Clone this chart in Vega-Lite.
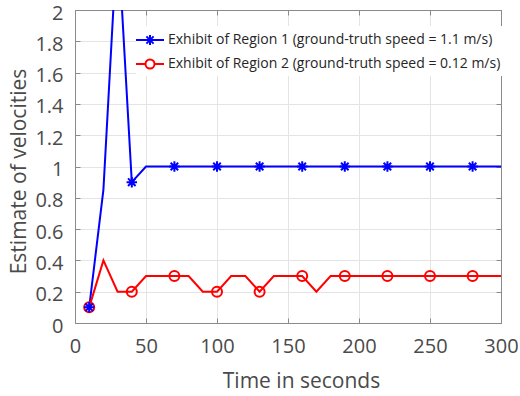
{
  "$schema": "https://vega.github.io/schema/vega-lite/v6.json",
  "width": 426,
  "height": 313,
  "autosize": {"type": "none"},
  "padding": {"left": 75, "top": 10, "right": 19, "bottom": 73},
  "background": "white",
  "config": {
    "font": "Open Sans",
    "view": {"stroke": "#8a8a8a", "strokeWidth": 1},
    "axis": {
      "labelFont": "Open Sans",
      "titleFont": "Open Sans",
      "labelFontSize": 20,
      "titleFontSize": 21,
      "titleFontWeight": "normal",
      "labelColor": "#4a4a4a",
      "titleColor": "#4a4a4a",
      "domainColor": "#8a8a8a",
      "tickColor": "#8a8a8a",
      "gridColor": "#e4e4e4",
      "gridWidth": 1
    },
    "legend": {"labelFont": "Open Sans"}
  },
  "data": {
    "values": [
      {"t": 10, "v": 0.1, "series": "Exhibit of Region 1 (ground-truth speed = 1.1 m/s)"},
      {"t": 20, "v": 0.85, "series": "Exhibit of Region 1 (ground-truth speed = 1.1 m/s)"},
      {"t": 30, "v": 2.5, "series": "Exhibit of Region 1 (ground-truth speed = 1.1 m/s)"},
      {"t": 40, "v": 0.9, "series": "Exhibit of Region 1 (ground-truth speed = 1.1 m/s)"},
      {"t": 50, "v": 1.0, "series": "Exhibit of Region 1 (ground-truth speed = 1.1 m/s)"},
      {"t": 60, "v": 1.0, "series": "Exhibit of Region 1 (ground-truth speed = 1.1 m/s)"},
      {"t": 70, "v": 1.0, "series": "Exhibit of Region 1 (ground-truth speed = 1.1 m/s)"},
      {"t": 80, "v": 1.0, "series": "Exhibit of Region 1 (ground-truth speed = 1.1 m/s)"},
      {"t": 90, "v": 1.0, "series": "Exhibit of Region 1 (ground-truth speed = 1.1 m/s)"},
      {"t": 100, "v": 1.0, "series": "Exhibit of Region 1 (ground-truth speed = 1.1 m/s)"},
      {"t": 110, "v": 1.0, "series": "Exhibit of Region 1 (ground-truth speed = 1.1 m/s)"},
      {"t": 120, "v": 1.0, "series": "Exhibit of Region 1 (ground-truth speed = 1.1 m/s)"},
      {"t": 130, "v": 1.0, "series": "Exhibit of Region 1 (ground-truth speed = 1.1 m/s)"},
      {"t": 140, "v": 1.0, "series": "Exhibit of Region 1 (ground-truth speed = 1.1 m/s)"},
      {"t": 150, "v": 1.0, "series": "Exhibit of Region 1 (ground-truth speed = 1.1 m/s)"},
      {"t": 160, "v": 1.0, "series": "Exhibit of Region 1 (ground-truth speed = 1.1 m/s)"},
      {"t": 170, "v": 1.0, "series": "Exhibit of Region 1 (ground-truth speed = 1.1 m/s)"},
      {"t": 180, "v": 1.0, "series": "Exhibit of Region 1 (ground-truth speed = 1.1 m/s)"},
      {"t": 190, "v": 1.0, "series": "Exhibit of Region 1 (ground-truth speed = 1.1 m/s)"},
      {"t": 200, "v": 1.0, "series": "Exhibit of Region 1 (ground-truth speed = 1.1 m/s)"},
      {"t": 210, "v": 1.0, "series": "Exhibit of Region 1 (ground-truth speed = 1.1 m/s)"},
      {"t": 220, "v": 1.0, "series": "Exhibit of Region 1 (ground-truth speed = 1.1 m/s)"},
      {"t": 230, "v": 1.0, "series": "Exhibit of Region 1 (ground-truth speed = 1.1 m/s)"},
      {"t": 240, "v": 1.0, "series": "Exhibit of Region 1 (ground-truth speed = 1.1 m/s)"},
      {"t": 250, "v": 1.0, "series": "Exhibit of Region 1 (ground-truth speed = 1.1 m/s)"},
      {"t": 260, "v": 1.0, "series": "Exhibit of Region 1 (ground-truth speed = 1.1 m/s)"},
      {"t": 270, "v": 1.0, "series": "Exhibit of Region 1 (ground-truth speed = 1.1 m/s)"},
      {"t": 280, "v": 1.0, "series": "Exhibit of Region 1 (ground-truth speed = 1.1 m/s)"},
      {"t": 290, "v": 1.0, "series": "Exhibit of Region 1 (ground-truth speed = 1.1 m/s)"},
      {"t": 300, "v": 1.0, "series": "Exhibit of Region 1 (ground-truth speed = 1.1 m/s)"},
      {"t": 10, "v": 0.1, "series": "Exhibit of Region 2 (ground-truth speed = 0.12 m/s)"},
      {"t": 20, "v": 0.4, "series": "Exhibit of Region 2 (ground-truth speed = 0.12 m/s)"},
      {"t": 30, "v": 0.2, "series": "Exhibit of Region 2 (ground-truth speed = 0.12 m/s)"},
      {"t": 40, "v": 0.2, "series": "Exhibit of Region 2 (ground-truth speed = 0.12 m/s)"},
      {"t": 50, "v": 0.3, "series": "Exhibit of Region 2 (ground-truth speed = 0.12 m/s)"},
      {"t": 60, "v": 0.3, "series": "Exhibit of Region 2 (ground-truth speed = 0.12 m/s)"},
      {"t": 70, "v": 0.3, "series": "Exhibit of Region 2 (ground-truth speed = 0.12 m/s)"},
      {"t": 80, "v": 0.3, "series": "Exhibit of Region 2 (ground-truth speed = 0.12 m/s)"},
      {"t": 90, "v": 0.2, "series": "Exhibit of Region 2 (ground-truth speed = 0.12 m/s)"},
      {"t": 100, "v": 0.2, "series": "Exhibit of Region 2 (ground-truth speed = 0.12 m/s)"},
      {"t": 110, "v": 0.3, "series": "Exhibit of Region 2 (ground-truth speed = 0.12 m/s)"},
      {"t": 120, "v": 0.3, "series": "Exhibit of Region 2 (ground-truth speed = 0.12 m/s)"},
      {"t": 130, "v": 0.2, "series": "Exhibit of Region 2 (ground-truth speed = 0.12 m/s)"},
      {"t": 140, "v": 0.3, "series": "Exhibit of Region 2 (ground-truth speed = 0.12 m/s)"},
      {"t": 150, "v": 0.3, "series": "Exhibit of Region 2 (ground-truth speed = 0.12 m/s)"},
      {"t": 160, "v": 0.3, "series": "Exhibit of Region 2 (ground-truth speed = 0.12 m/s)"},
      {"t": 170, "v": 0.2, "series": "Exhibit of Region 2 (ground-truth speed = 0.12 m/s)"},
      {"t": 180, "v": 0.3, "series": "Exhibit of Region 2 (ground-truth speed = 0.12 m/s)"},
      {"t": 190, "v": 0.3, "series": "Exhibit of Region 2 (ground-truth speed = 0.12 m/s)"},
      {"t": 200, "v": 0.3, "series": "Exhibit of Region 2 (ground-truth speed = 0.12 m/s)"},
      {"t": 210, "v": 0.3, "series": "Exhibit of Region 2 (ground-truth speed = 0.12 m/s)"},
      {"t": 220, "v": 0.3, "series": "Exhibit of Region 2 (ground-truth speed = 0.12 m/s)"},
      {"t": 230, "v": 0.3, "series": "Exhibit of Region 2 (ground-truth speed = 0.12 m/s)"},
      {"t": 240, "v": 0.3, "series": "Exhibit of Region 2 (ground-truth speed = 0.12 m/s)"},
      {"t": 250, "v": 0.3, "series": "Exhibit of Region 2 (ground-truth speed = 0.12 m/s)"},
      {"t": 260, "v": 0.3, "series": "Exhibit of Region 2 (ground-truth speed = 0.12 m/s)"},
      {"t": 270, "v": 0.3, "series": "Exhibit of Region 2 (ground-truth speed = 0.12 m/s)"},
      {"t": 280, "v": 0.3, "series": "Exhibit of Region 2 (ground-truth speed = 0.12 m/s)"},
      {"t": 290, "v": 0.3, "series": "Exhibit of Region 2 (ground-truth speed = 0.12 m/s)"},
      {"t": 300, "v": 0.3, "series": "Exhibit of Region 2 (ground-truth speed = 0.12 m/s)"}
    ]
  },
  "resolve": {"axis": {"x": "independent", "y": "independent"}},
  "layer": [
    {
      "mark": {"type": "line", "strokeWidth": 2, "clip": true},
      "encoding": {
        "x": {
          "field": "t", "type": "quantitative",
          "scale": {"domain": [0, 300], "nice": false},
          "axis": {
            "title": "Time in seconds",
            "values": [0, 50, 100, 150, 200, 250, 300],
            "format": "d",
            "tickSize": -5,
            "labelPadding": 18,
            "labelFlush": false,
            "titleX": 226,
            "titleY": 64,
            "titleBaseline": "alphabetic",
            "titleAnchor": null
          }
        },
        "y": {
          "field": "v", "type": "quantitative",
          "scale": {"domain": [0, 2], "nice": false},
          "axis": {
            "title": "Estimate of velocities",
            "values": [0, 0.2, 0.4, 0.6, 0.8, 1, 1.2, 1.4, 1.6, 1.8, 2],
            "format": "~r",
            "tickSize": -5,
            "labelPadding": 17,
            "labelFlush": false,
            "labelOffset": 3,
            "titleX": -50,
            "titleY": 161,
            "titleAngle": 270,
            "titleBaseline": "alphabetic",
            "titleAnchor": null
          }
        },
        "color": {
          "field": "series", "type": "nominal",
          "scale": {
            "domain": ["Exhibit of Region 1 (ground-truth speed = 1.1 m/s)", "Exhibit of Region 2 (ground-truth speed = 0.12 m/s)"],
            "range": ["#0000ff", "#ff0000"]
          },
          "legend": {
            "title": null,
            "orient": "none",
            "legendX": 61,
            "legendY": 16,
            "padding": 3,
            "fillColor": "white",
            "strokeColor": null,
            "symbolSize": 400,
            "symbolStrokeWidth": 2,
            "labelFontSize": 14,
            "labelColor": "#262626",
            "labelOffset": 7,
            "labelLimit": 500,
            "rowPadding": 4,
            "encode": {
              "symbols": {
                "update": {
                  "shape": {"signal": "indexof(datum.value, 'Region 1') >= 0 ? 'M-1.4,0L1.4,0M0,-0.5L0,0.5M-0.36,-0.36L0.36,0.36M-0.36,0.36L0.36,-0.36' : 'M-1.4,0L-0.45,0M0.45,0L1.4,0M-0.45,0A0.45,0.45,0,1,1,0.45,0A0.45,0.45,0,1,1,-0.45,0'"},
                  "stroke": {"signal": "scale('color', datum.value)"},
                  "fill": {"value": "transparent"},
                  "strokeWidth": {"value": 2},
                  "opacity": {"value": 1}
                }
              }
            }
          }
        }
      }
    },
    {
      "transform": [
        {"filter": "datum.t % 30 == 10"},
        {"filter": "indexof(datum.series, 'Region 2') >= 0"}
      ],
      "mark": {"type": "point", "filled": false, "strokeWidth": 2, "size": 100, "opacity": 1, "clip": true, "color": "#ff0000", "shape": "circle"},
      "encoding": {
        "x": {
          "field": "t", "type": "quantitative",
          "axis": {"orient": "top", "labels": false, "title": null, "grid": false, "tickSize": -5, "values": [0, 50, 100, 150, 200, 250, 300]}
        },
        "y": {
          "field": "v", "type": "quantitative",
          "axis": {"orient": "right", "labels": false, "title": null, "grid": false, "tickSize": -5, "values": [0, 0.2, 0.4, 0.6, 0.8, 1, 1.2, 1.4, 1.6, 1.8, 2]}
        }
      }
    },
    {
      "transform": [
        {"filter": "datum.t % 30 == 10"},
        {"filter": "indexof(datum.series, 'Region 1') >= 0"}
      ],
      "mark": {"type": "point", "filled": false, "strokeWidth": 2, "size": 110, "opacity": 1, "clip": true, "color": "#0000ff", "shape": "M-1,0L1,0M0,-1L0,1M-0.72,-0.72L0.72,0.72M-0.72,0.72L0.72,-0.72"},
      "encoding": {
        "x": {"field": "t", "type": "quantitative", "axis": null},
        "y": {"field": "v", "type": "quantitative", "axis": null}
      }
    }
  ]
}
